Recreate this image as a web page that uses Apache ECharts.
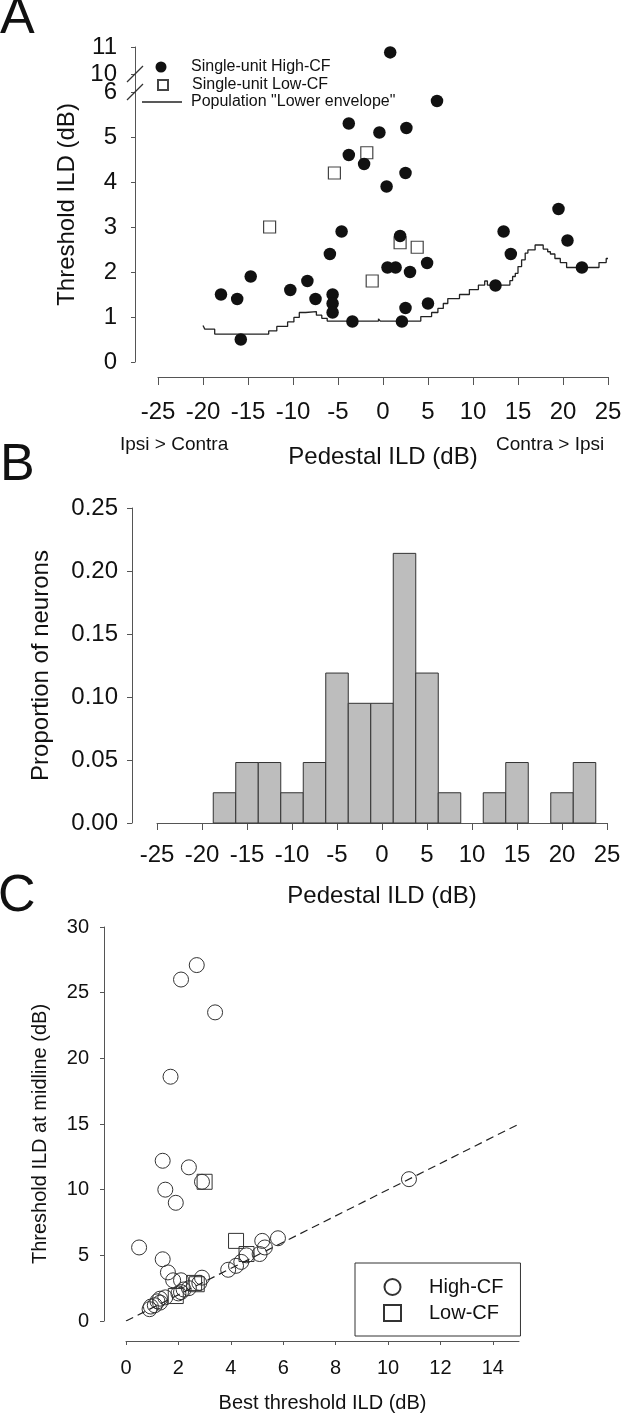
<!DOCTYPE html>
<html><head><meta charset="utf-8">
<script src="https://cdn.jsdelivr.net/npm/echarts@6/dist/echarts.min.js"></script>
<style>html,body{margin:0;padding:0;background:#fff}#c{width:626px;height:1418px}</style>
</head><body><div id="c"></div>
<script>
// ---------- Panel A data ----------
const highCF_pedestal = [-18.0,-16.2,-15.8,-14.7,-10.3,-8.4,-7.5,-5.9,-5.6,-5.6,-5.6,-4.6,-3.8,-3.8,-3.4,-2.1,-0.4,0.4,0.8,0.5,1.4,1.9,2.1,2.5,2.5,2.6,3.0,4.9,5.0,6.0,12.5,13.4,14.2,19.5,20.5,22.1];
const highCF_threshold = [1.5,1.4,0.5,1.9,1.6,1.8,1.4,2.4,1.5,1.3,1.1,2.9,5.3,4.6,0.9,4.4,5.1,3.9,10.8,2.1,2.1,2.8,0.9,1.2,4.2,5.2,2.0,2.2,1.3,5.8,1.7,2.9,2.4,3.4,2.7,2.1];
const lowCF_pedestal = [-12.6,-5.4,-1.8,-1.2,1.9,3.8];
const lowCF_threshold = [3.0,4.2,4.65,1.8,2.65,2.55];
const envelope_pedestal = [-20.0,-19.8,-18.7,-12.7,-11.8,-10.6,-9.9,-9.3,-8.6,-7.4,-6.8,-6.2,-0.5,-0.3,4.2,5.4,6.1,6.7,7.2,8.5,9.6,10.6,11.3,11.6,14.1,14.4,14.7,15.0,15.4,15.8,16.1,16.9,17.8,18.3,18.6,19.1,19.7,20.4,24.0,24.8,25.0];
const envelope_threshold = [0.81,0.73,0.62,0.69,0.79,0.89,0.99,1.10,1.12,1.04,0.97,0.91,0.96,0.91,1.01,1.10,1.19,1.30,1.41,1.50,1.61,1.71,1.80,1.71,1.81,1.90,1.97,2.12,2.27,2.42,2.49,2.60,2.51,2.45,2.40,2.30,2.21,2.10,2.21,2.30,2.30];
const yTicksA = [0,1,2,3,4,5,6,10,11];
// ---------- Panel B data ----------
const binCenters = [-17.5,-15,-12.5,-10,-7.5,-5,-2.5,0,2.5,5,7.5,10,12.5,15,17.5,20,22.5];
const proportions = [0.024,0.048,0.048,0.024,0.048,0.119,0.095,0.095,0.214,0.119,0.024,0,0.024,0.048,0,0.024,0.048];
// ---------- Panel C data ----------
const highCF_best = [0.5,0.9,0.95,1.1,1.2,1.3,1.3,1.4,1.4,1.5,1.5,1.6,1.7,1.8,1.9,2.0,2.1,2.1,2.1,2.2,2.4,2.4,2.7,2.8,2.9,2.9,3.4,3.9,4.2,4.4,4.6,5.1,5.2,5.3,5.8,10.8];
const highCF_midline = [5.6,0.9,1.1,1.2,1.5,1.4,1.7,12.2,4.7,10.0,1.8,3.7,18.6,3.1,9.0,2.1,26.0,2.2,3.1,2.4,11.7,2.5,27.1,2.9,10.6,3.3,23.5,3.9,4.2,4.5,5.0,5.1,6.1,5.6,6.3,10.8];
const lowCF_best = [1.9,2.6,2.7,3.0,4.2,4.6];
const lowCF_midline = [1.9,2.9,2.8,10.6,6.1,5.1];
const unityLine = [0,15];

const FONT = 'Liberation Sans, Arial, Helvetica, sans-serif';
const AX = '#555', TXT = '#111';
// broken y axis of panel A: 0..6 linear, then 10..11 compressed above a gap
function breakY(v){ return v <= 6 ? v : 6.4 + (v - 10) * 0.6; }
function unbreakY(t){ return t <= 6.01 ? t : Math.round(10 + (t - 6.4) / 0.6); }

const chart = echarts.init(document.getElementById('c'), null, {renderer:'canvas'});

function axisCommon(fs){
  return {
    axisLine:{show:true, onZero:false, lineStyle:{color:AX, width:1}},
    axisTick:{show:true, lineStyle:{color:AX, width:1}},
    splitLine:{show:false},
    axisLabel:{color:TXT, fontSize:fs, fontFamily:FONT},
    nameTextStyle:{color:TXT, fontSize:fs, fontFamily:FONT},
    nameLocation:'middle'
  };
}
function legendA(name, left, top, w, h, pad, icon){
  const d = icon ? {name:name, icon:icon} : name;
  return {left:left, top:top, padding:0, itemWidth:w, itemHeight:h, selectedMode:false,
    data:[d], textStyle:{fontSize:16, color:TXT, fontFamily:FONT, padding:[0,0,0,pad]}};
}

const option = {
  animation:false,
  backgroundColor:'#fff',
  textStyle:{fontFamily:FONT},
  grid:[
    {left:158, top:47, width:450, height:315, containLabel:false, outerBoundsMode:'none'},
    {left:157, top:508, width:450, height:315, containLabel:false, outerBoundsMode:'none'},
    {left:126, top:927, width:393, height:394, containLabel:false, outerBoundsMode:'none'}
  ],
  xAxis:[
    Object.assign(axisCommon(24), {gridIndex:0, type:'value', min:-25, max:25, interval:5, offset:15,
      name:'Pedestal ILD (dB)', nameGap:68,
      axisTick:{show:true, length:8, lineStyle:{color:AX}},
      axisLabel:{color:TXT, fontSize:24, fontFamily:FONT, margin:23, interval:0}}),
    Object.assign(axisCommon(24), {gridIndex:1, type:'value', min:-25, max:25, interval:5, offset:0,
      name:'Pedestal ILD (dB)', nameGap:61,
      axisTick:{show:true, length:7, lineStyle:{color:AX}},
      axisLabel:{color:TXT, fontSize:24, fontFamily:FONT, margin:20, interval:0}}),
    Object.assign(axisCommon(20), {gridIndex:2, type:'value', min:0, max:15, interval:2, offset:20,
      name:'Best threshold ILD (dB)', nameGap:52,
      axisTick:{show:true, length:4, lineStyle:{color:AX}, customValues:[0,2,4,6,8,10,12,14]},
      axisLabel:{color:TXT, fontSize:20, fontFamily:FONT, margin:17, customValues:[0,2,4,6,8,10,12,14]}})
  ],
  yAxis:[
    Object.assign(axisCommon(24), {gridIndex:0, type:'value', min:0, max:7, offset:23,
      name:'Threshold ILD (dB)', nameGap:56,
      axisTick:{show:true, length:4, lineStyle:{color:AX}, customValues:yTicksA.map(breakY)},
      axisLabel:{color:TXT, fontSize:24, fontFamily:FONT, margin:18,
        customValues:yTicksA.map(breakY), formatter:v=>String(unbreakY(v))}}),
    Object.assign(axisCommon(24), {gridIndex:1, type:'value', min:0, max:0.25, interval:0.05, offset:25,
      name:'Proportion of neurons', nameGap:79,
      axisTick:{show:true, length:5, lineStyle:{color:AX}},
      axisLabel:{color:TXT, fontSize:24, fontFamily:FONT, margin:14, formatter:v=>v.toFixed(2)}}),
    Object.assign(axisCommon(20), {gridIndex:2, type:'value', min:0, max:30, interval:5, offset:22,
      name:'Threshold ILD at midline (dB)', nameGap:54,
      nameTextStyle:{color:TXT, fontSize:20, fontFamily:FONT, padding:[0,20,0,0]},
      axisTick:{show:true, length:4, lineStyle:{color:AX}},
      axisLabel:{color:TXT, fontSize:20, fontFamily:FONT, margin:15}})
  ],
  legend:[
    legendA('Single-unit High-CF', 155.5, 59, 11, 11, 19.5, 'circle'),
    legendA('Single-unit Low-CF', 157, 77, 10, 10, 19, 'rect'),
    legendA('Population "Lower envelope"', 142, 94, 40, 1.3, 4, 'rect'),
    {left:355, top:1263, orient:'vertical', padding:[14,17,13,28], itemWidth:17, itemHeight:16, itemGap:6,
     borderColor:'#333', borderWidth:1, selectedMode:false,
     data:['High-CF','Low-CF'], textStyle:{fontSize:20, color:TXT, fontFamily:FONT, padding:[0,0,0,23]}}
  ],
  series:[
    {name:'Population "Lower envelope"', type:'line', xAxisIndex:0, yAxisIndex:0, step:'end',
     symbol:'none', lineStyle:{color:'#222', width:1.3}, itemStyle:{color:'#222'},
     data:envelope_pedestal.map((x,i)=>[x, breakY(envelope_threshold[i])]), z:2},
    {name:'Single-unit Low-CF', type:'scatter', xAxisIndex:0, yAxisIndex:0, symbol:'rect', symbolSize:12,
     itemStyle:{color:'#fff', borderColor:'#444', borderWidth:1.2, opacity:1},
     data:lowCF_pedestal.map((x,i)=>[x, breakY(lowCF_threshold[i])]), z:3},
    {name:'Single-unit High-CF', type:'scatter', xAxisIndex:0, yAxisIndex:0, symbol:'circle', symbolSize:12.5,
     itemStyle:{color:'#111', opacity:1},
     data:highCF_pedestal.map((x,i)=>[x, breakY(highCF_threshold[i])]), z:4},
    {name:'hist', type:'custom', xAxisIndex:1, yAxisIndex:1,
     data:binCenters.map((c,i)=>[c, proportions[i]]),
     renderItem:function(params, api){
       const c = api.value(0), v = api.value(1);
       if (!v) return null;
       const p0 = api.coord([c - 1.25, v]);
       const p1 = api.coord([c + 1.25, 0]);
       return {type:'rect', shape:{x:p0[0], y:p0[1], width:p1[0]-p0[0], height:p1[1]-p0[1]},
               style:{fill:'#bdbdbd', stroke:'#333', lineWidth:1}};
     }},
    {name:'unity', type:'line', xAxisIndex:2, yAxisIndex:2, symbol:'none', silent:true,
     lineStyle:{color:'#222', width:1.2, type:[8,5]}, data:unityLine.map(v=>[v,v])},
    {name:'High-CF', type:'scatter', xAxisIndex:2, yAxisIndex:2, symbol:'circle', symbolSize:15,
     itemStyle:{color:'rgba(255,255,255,0)', borderColor:'#333', borderWidth:1, opacity:1},
     data:highCF_best.map((x,i)=>[x, highCF_midline[i]])},
    {name:'Low-CF', type:'scatter', xAxisIndex:2, yAxisIndex:2, symbol:'rect', symbolSize:15,
     itemStyle:{color:'rgba(255,255,255,0)', borderColor:'#333', borderWidth:1, opacity:1},
     data:lowCF_best.map((x,i)=>[x, lowCF_midline[i]])}
  ]
};
chart.setOption(option);

// panel letters, side notes and axis-break marks
const axX = chart.convertToPixel({xAxisIndex:0}, -25) - 23;
const y6 = chart.convertToPixel({yAxisIndex:0}, breakY(6));
const y10 = chart.convertToPixel({yAxisIndex:0}, breakY(10));
function slash(y){ return {type:'line', shape:{x1:axX-8, y1:y+8, x2:axX+8, y2:y-8}, style:{stroke:'#333', lineWidth:1.2}, z:100}; }
chart.setOption({graphic:[
  {type:'text', left:0, top:-7, style:{text:'A', font:'52px '+FONT, fill:TXT}},
  {type:'text', left:0, top:440, style:{text:'B', font:'52px '+FONT, fill:TXT}},
  {type:'text', left:-2, top:871, style:{text:'C', font:'52px '+FONT, fill:TXT}},
  {type:'text', left:120, top:435, style:{text:'Ipsi > Contra', font:'19px '+FONT, fill:TXT}},
  {type:'text', left:496, top:435, style:{text:'Contra > Ipsi', font:'19px '+FONT, fill:TXT}},
  slash(y10), slash(y6)
]});
</script></body></html>
